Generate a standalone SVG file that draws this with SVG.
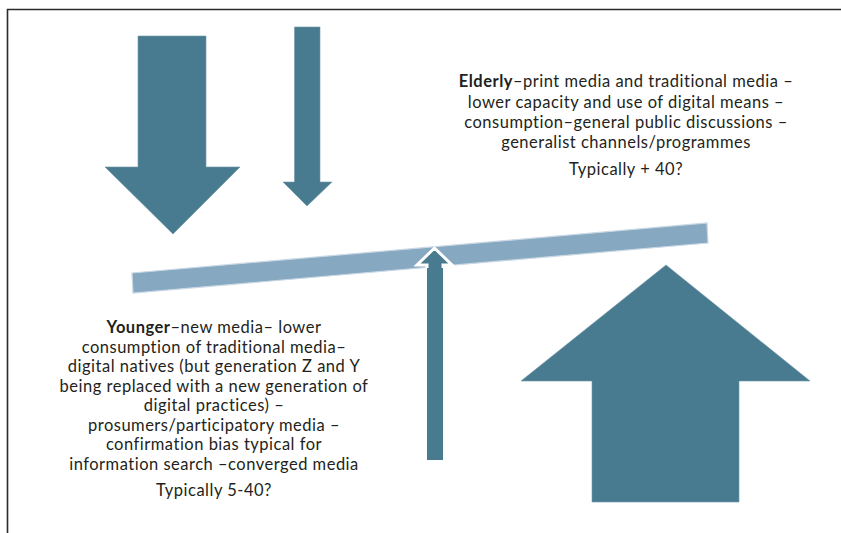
<svg xmlns="http://www.w3.org/2000/svg" width="841" height="533" viewBox="0 0 841 533">
<style>
.arrow{fill:#487b8f;stroke:#6f97a8;stroke-width:0.6}
.t{font-family:Lato,"Open Sans",sans-serif;font-size:16.5px;fill:#231f20;text-anchor:middle;letter-spacing:0.5px}
.b{font-weight:bold}
</style>
<rect width="841" height="533" fill="#ffffff"/>
<g id="frame" fill="none" stroke="#2b2b2b" stroke-width="1.6">
<path d="M7.5,533 V9.5 H841"/>
</g>
<g id="arrow-big-down"><polygon class="arrow" points="138,36 206,36 206,167 240,167 173,234 105,167 138,167"/></g>
<g id="arrow-small-down"><polygon class="arrow" points="294.5,27 320,27 320,182 332,182 307,206 283,182 294.5,182"/></g>
<g id="beam"><polygon points="132,273 707,223 708,243 133,293" fill="#87a8c1" stroke="#c9d8e4" stroke-width="1.2"/></g>
<g id="arrow-mid-up"><polygon points="427,460 443,460 443,265 452,265 434.5,248 417,265 427,265" fill="#487b8f" stroke="#ffffff" stroke-width="3" stroke-linejoin="miter"/><rect x="427" y="268" width="16" height="192" fill="#487b8f"/></g>
<g id="arrow-big-up"><polygon class="arrow" points="592,502 739,502 739,381 810,381 666,265 521,381 592,381"/></g>
<g id="elderly-text">
<text class="t" x="626" y="87"><tspan class="b">Elderly</tspan>–print media and traditional media –</text>
<text class="t" x="626" y="107.5">lower capacity and use of digital means –</text>
<text class="t" x="626" y="128">consumption–general public discussions –</text>
<text class="t" x="626" y="148">generalist channels/programmes</text>
<text class="t" x="626" y="175">Typically + 40?</text>
</g>
<g id="younger-text">
<text class="t" x="214" y="333"><tspan class="b">Younger</tspan>–new media– lower</text>
<text class="t" x="214" y="352.5">consumption of traditional media–</text>
<text class="t" x="214" y="372">digital natives (but generation Z and Y</text>
<text class="t" x="214" y="391.5">being replaced with a new generation of</text>
<text class="t" x="214" y="411">digital practices) –</text>
<text class="t" x="214" y="430.5">prosumers/participatory media –</text>
<text class="t" x="214" y="450">confirmation bias typical for</text>
<text class="t" x="214" y="469.5">information search –converged media</text>
<text class="t" x="214" y="496">Typically 5-40?</text>
</g>
</svg>
